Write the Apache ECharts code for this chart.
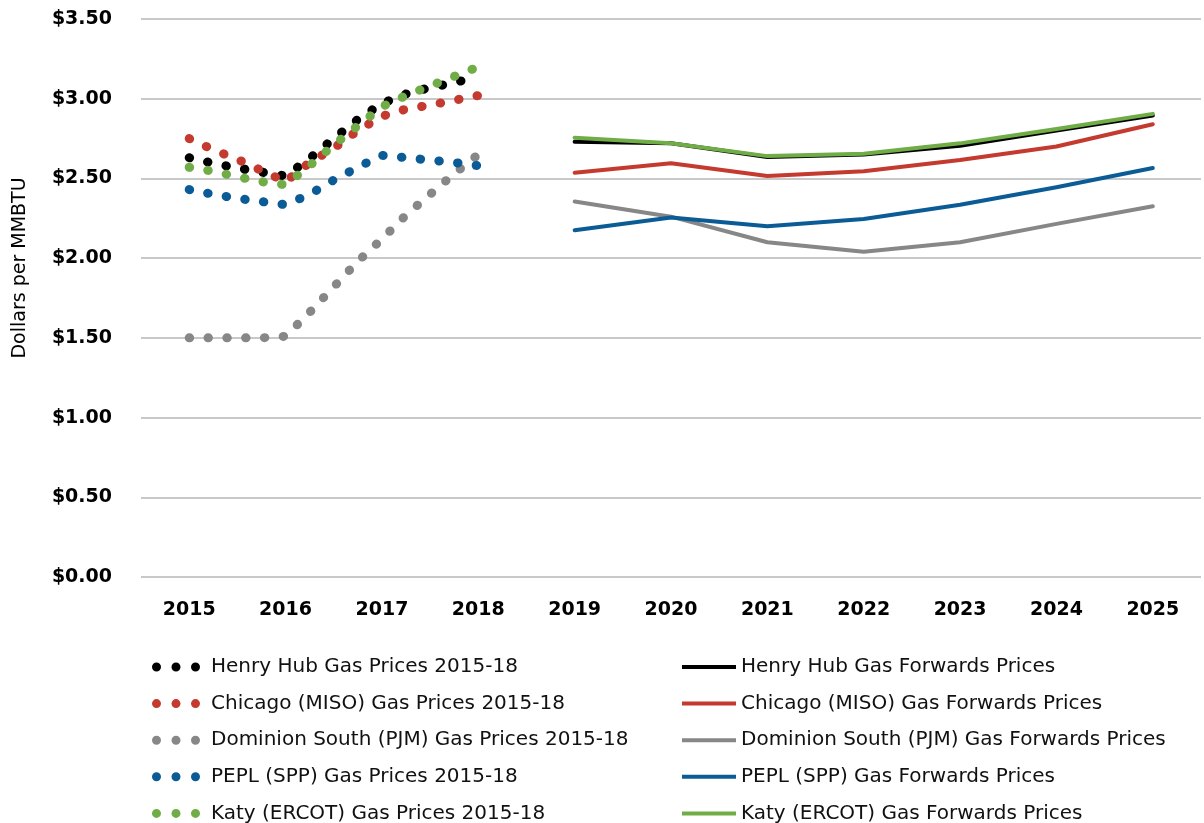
<!DOCTYPE html>
<html>
<head>
<meta charset="utf-8">
<script src="https://cdn.jsdelivr.net/npm/echarts@6/dist/echarts.min.js"></script>
<style>
html,body{margin:0;padding:0;background:#fff;}
#chart{width:1204px;height:823px;}
</style>
</head>
<body>
<div id="chart"></div>
<script>
// ---- Data ----
const histNames = ["Henry Hub Gas Prices 2015-18", "Chicago (MISO) Gas Prices 2015-18", "Dominion South (PJM) Gas Prices 2015-18", "PEPL (SPP) Gas Prices 2015-18", "Katy (ERCOT) Gas Prices 2015-18"];
const fwdNames = ["Henry Hub Gas Forwards Prices", "Chicago (MISO) Gas Forwards Prices", "Dominion South (PJM) Gas Forwards Prices", "PEPL (SPP) Gas Forwards Prices", "Katy (ERCOT) Gas Forwards Prices"];

const histX = [2015.0, 2015.25, 2015.5, 2015.75, 2016.0, 2016.25, 2016.5, 2016.75, 2017.0, 2017.25, 2017.5, 2017.75, 2018.0];
const henryHist    = [2.63, 2.595, 2.565, 2.54, 2.515, 2.625, 2.75, 2.87, 2.97, 3.03, 3.07, 3.10, 3.14];
const chicagoHist  = [2.75, 2.68, 2.62, 2.55, 2.48, 2.60, 2.69, 2.80, 2.89, 2.935, 2.96, 2.99, 3.02];
const dominionHist = [1.50, 1.50, 1.50, 1.50, 1.51, 1.66, 1.82, 1.98, 2.12, 2.27, 2.40, 2.53, 2.65];
const peplHist     = [2.43, 2.40, 2.375, 2.355, 2.335, 2.40, 2.49, 2.57, 2.645, 2.63, 2.615, 2.60, 2.58];
const katyHist     = [2.57, 2.545, 2.51, 2.48, 2.46, 2.58, 2.71, 2.83, 2.95, 3.02, 3.08, 3.14, 3.20];

const fwdX = [2019, 2020, 2021, 2022, 2023, 2024, 2025];
const henryFwd    = [2.73, 2.72, 2.635, 2.65, 2.705, 2.80, 2.895];
const chicagoFwd  = [2.535, 2.595, 2.515, 2.545, 2.615, 2.70, 2.84];
const dominionFwd = [2.355, 2.26, 2.10, 2.04, 2.10, 2.215, 2.325];
const peplFwd     = [2.175, 2.255, 2.20, 2.245, 2.335, 2.445, 2.565];
const katyFwd     = [2.755, 2.72, 2.64, 2.655, 2.72, 2.81, 2.905];

const colors = ['#000000', '#C43A2F', '#878787', '#0B5C96', '#70AD47'];
const histData = [henryHist, chicagoHist, dominionHist, peplHist, katyHist];
const fwdData = [henryFwd, chicagoFwd, dominionFwd, peplFwd, katyFwd];

const FONT = 'DejaVu Sans';
const dotsIcon = 'path://M4.5,0A4.5,4.5 0 1 1 4.5,9A4.5,4.5 0 1 1 4.5,0Z M24,0A4.5,4.5 0 1 1 24,9A4.5,4.5 0 1 1 24,0Z M43.5,0A4.5,4.5 0 1 1 43.5,9A4.5,4.5 0 1 1 43.5,0Z';

const pair = (xs, ys) => xs.map((x, i) => [x, ys[i]]);

const series = [];
histNames.forEach((n, i) => {
  series.push({
    name: n, type: 'line', data: pair(histX, histData[i]),
    symbol: 'none', showSymbol: false, color: colors[i],
    lineStyle: { width: 9, type: [0.5, 18.3], cap: 'round', color: colors[i] },
    z: 2
  });
});
fwdNames.forEach((n, i) => {
  series.push({
    name: n, type: 'line', data: pair(fwdX, fwdData[i]),
    symbol: 'none', showSymbol: false, color: colors[i],
    lineStyle: { width: 4, color: colors[i], cap: 'round', join: 'round' },
    z: 2
  });
});

const chart = echarts.init(document.getElementById('chart'), null, { renderer: 'canvas' });
chart.setOption({
  animation: false,
  backgroundColor: '#ffffff',
  grid: { left: 141, right: -7, top: 19, bottom: 246, containLabel: false },
  xAxis: {
    type: 'value', min: 2014.5, max: 2025.5, interval: 0.5,
    axisLine: { show: false }, axisTick: { show: false }, splitLine: { show: false },
    axisLabel: {
      margin: 24, color: '#000', fontFamily: FONT, fontWeight: 'bold', fontSize: 19,
      formatter: v => (Math.abs(v - Math.round(v)) < 1e-6 ? String(Math.round(v)) : '')
    }
  },
  yAxis: {
    type: 'value', min: 0, max: 3.5, interval: 0.5,
    axisLine: { show: false }, axisTick: { show: false },
    splitLine: { lineStyle: { color: '#c8c8c8', width: 2 } },
    axisLabel: {
      margin: 29, color: '#000', fontFamily: FONT, fontWeight: 'bold', fontSize: 19,
      formatter: v => '$' + v.toFixed(2)
    }
  },
  graphic: [{
    type: 'text', x: 20, y: 268, rotation: Math.PI / 2,
    style: { text: 'Dollars per MMBTU', fontFamily: FONT, fontSize: 19, fill: '#000', align: 'center', verticalAlign: 'middle' }
  }],
  legend: [{
    data: histNames, orient: 'vertical', left: 152, top: 657, height: 220, padding: 0,
    icon: dotsIcon, itemWidth: 48, itemHeight: 9, itemGap: 16.6,
    itemStyle: { borderWidth: 0 },
    textStyle: { fontFamily: FONT, fontSize: 20, color: '#111', padding: [0, 0, 0, 6] },
    selectedMode: false
  }, {
    data: fwdNames, orient: 'vertical', left: 682, top: 657, height: 220, padding: 0,
    icon: 'rect', itemWidth: 54, itemHeight: 4, itemGap: 16.6,
    itemStyle: { borderWidth: 0 },
    textStyle: { fontFamily: FONT, fontSize: 20, color: '#111' },
    selectedMode: false
  }],
  series: series
});
</script>
</body>
</html>
